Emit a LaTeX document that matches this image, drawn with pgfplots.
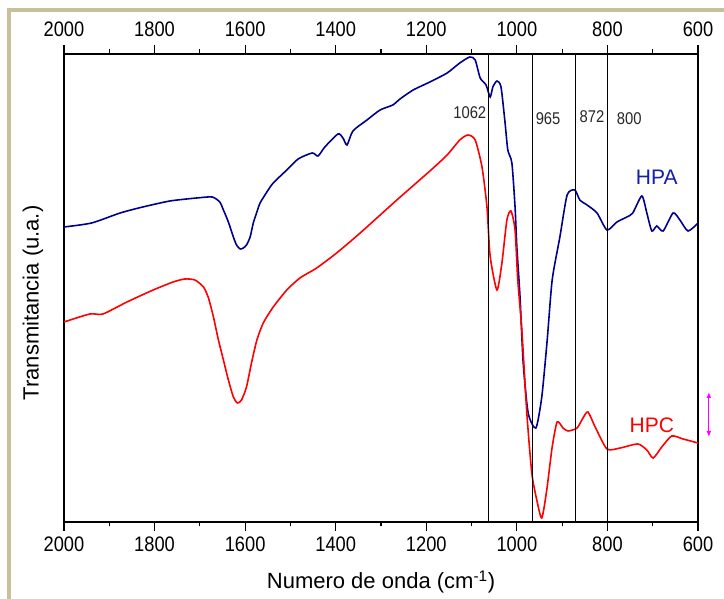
\documentclass[border=0pt]{standalone}
\usepackage{fontspec}
\setmainfont{Liberation Sans}
\newfontfamily\condfont[FakeStretch=0.87]{Liberation Sans}
\usepackage{pgfplots}
\pgfplotsset{compat=1.18}
\usetikzlibrary{arrows.meta}
\definecolor{hpa}{RGB}{0,0,140}
\definecolor{hpalbl}{RGB}{20,30,170}
\definecolor{frametan}{RGB}{200,192,155}
\definecolor{mag}{RGB}{255,0,255}
\definecolor{lbl}{RGB}{40,40,40}

\begin{document}
\begin{tikzpicture}[x=1bp,y=1bp]
\useasboundingbox (0,0) rectangle (724,599);
\fill[white] (0,0) rectangle (724,599);
\fill[frametan] (7,0) rectangle (11,589);
\fill[frametan] (7,587) rectangle (724,591);

\pgfplotsset{myax/.style={
  at={(64bp,77bp)}, anchor=south west,
  width=634bp, height=468bp, scale only axis,
  x dir=reverse, xmin=600, xmax=2000, ymin=-4, ymax=464,
  ytick=\empty,
  xtick={600,800,...,2000},
  minor x tick num=1,
  tick align=outside,
  major tick length=9bp, minor tick length=4.5bp,
  every tick/.style={black, line width=1.2pt},
  axis line style={line width=1.3pt},
  /pgf/number format/assume math mode=true,
  /pgf/number format/1000 sep={},
  xticklabel style={font=\condfont\fontsize{21bp}{23bp}\selectfont},
  clip=false,
}}

\begin{axis}[myax, xtick pos=both, xticklabel pos=lower,
  xticklabel style={yshift=-2bp}]
\addplot[hpa, line width=1.6pt, smooth, tension=0.4] coordinates {
(2000,291) (1939,295) (1876,305) (1826,311) (1766,317) (1707,320) (1673,321)
(1656,316) (1648,308) (1637,296) (1626,281) (1619,273) (1611,269) (1604,270)
(1597,273) (1589,281) (1582,295) (1574,306) (1567,315) (1552,326) (1538,335)
(1508,348) (1483,359) (1452,365)
(1439,362) (1424,371) (1395,384) (1384,380) (1375,373) (1362,387) (1331,398)
(1302,408) (1274,413) (1258,419) (1229,428) (1192,436) (1154,445) (1126,455)
(1104,461) (1092,458) (1081,440) (1068,433) (1059,421) (1053,431) (1044,437)
(1035,431) (1026,395) (1020,368) (1011,355) (1004,311) (1000,271) (993,221)
(986,155) (975,105) (958,90) (945,121) (933,178) (922,238) (905,281) (889,323)
(872,328) (861,318) (845,313) (823,305) (801,288) (779,296) (757,301) (744,305)
(724,322) (713,305) (702,287) (691,292) (677,287) (655,305) (640,298) (622,287)
(600,295)
};
\addplot[red, line width=1.6pt, smooth, tension=0.4] coordinates {
(2000,196) (1943,204) (1914,204) (1861,216) (1803,228) (1759,236) (1733,239)
(1711,238) (1692,231) (1681,220) (1670,201) (1659,178) (1648,158) (1637,138)
(1626,121) (1617,115) (1608,118) (1597,131) (1586,155) (1574,178) (1560,195)
(1538,211) (1508,228) (1479,240) (1442,250) (1398,265) (1346,285) (1265,318)
(1192,347) (1154,363) (1126,378) (1108,383) (1092,378) (1077,351) (1066,311)
(1059,262) (1044,228) (1033,255) (1022,298) (1013,307) (1004,288) (998,238)
(989,188) (978,105) (967,45) (956,18) (945,0) (934,28) (922,71) (911,96)
(898,90) (887,87) (867,90) (854,100) (843,106) (827,91) (801,69) (772,70)
(733,74) (713,68) (699,60) (680,71) (658,82) (633,79) (600,75)
};
\foreach \v in {1062,965,872,800}{
  \edef\tmp{\noexpand\draw[black, line width=0.6pt] (axis cs:\v,-4) -- (axis cs:\v,464);}
  \tmp
}
\node[lbl, font=\condfont\fontsize{17bp}{19bp}\selectfont] at (axis cs:1104,405) {1062};
\node[lbl, font=\condfont\fontsize{17bp}{19bp}\selectfont] at (axis cs:931,399) {965};
\node[lbl, font=\condfont\fontsize{17bp}{19bp}\selectfont] at (axis cs:834,401) {872};
\node[lbl, font=\condfont\fontsize{17bp}{19bp}\selectfont] at (axis cs:752,399) {800};
\node[hpalbl, font=\fontsize{21bp}{24bp}\selectfont] at (axis cs:691,341) {HPA};
\node[red, font=\fontsize{21bp}{24bp}\selectfont] at (axis cs:702,93) {HPC};
\draw[mag, line width=1.2pt, {Latex[length=6bp,width=5bp]}-{Latex[length=6bp,width=5bp]}] (axis cs:576,126) -- (axis cs:576,81);
\end{axis}

\begin{axis}[myax, xticklabel pos=upper, axis line style={draw=none}, every tick/.style={draw=none},
  xticklabel style={yshift=5bp}]
\end{axis}

\node[rotate=90, font=\fontsize{22bp}{24bp}\selectfont] at (33,296) {Transmitancia (u.a.)};
\node[font=\fontsize{22bp}{24bp}\selectfont] at (381,17) {Numero de onda (cm\textsuperscript{-1})};
\end{tikzpicture}
\end{document}
